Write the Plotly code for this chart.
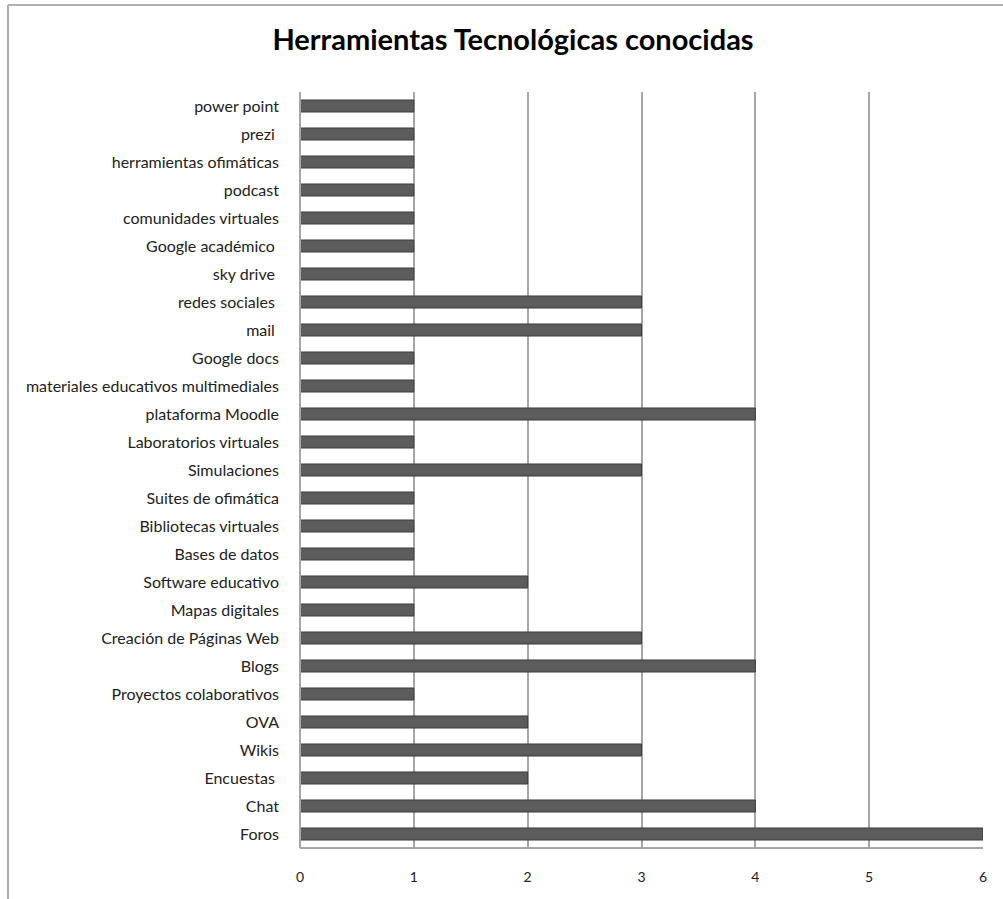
import plotly.graph_objects as go

categories = [
    "Foros", "Chat", "Encuestas ", "Wikis", "OVA", "Proyectos colaborativos",
    "Blogs", "Creación de Páginas Web", "Mapas digitales", "Software educativo",
    "Bases de datos", "Bibliotecas virtuales", "Suites de ofimática",
    "Simulaciones", "Laboratorios virtuales", "plataforma Moodle",
    "materiales educativos multimediales", "Google docs", "mail ",
    "redes sociales ", "sky drive ", "Google académico ", "comunidades virtuales",
    "podcast", "herramientas ofimáticas", "prezi ", "power point",
]
values = [6, 4, 2, 3, 2, 1, 4, 3, 1, 2, 1, 1, 1, 3, 1, 4, 1, 1, 3, 3, 1, 1, 1, 1, 1, 1, 1]
x_ticks = [0, 1, 2, 3, 4, 5, 6]
title_text = "Herramientas Tecnológicas conocidas"

W, H = 1003, 899
L, R, T, B = 300, 983, 92, 848

def px_x(p):
    return (p - L) / (R - L)

def px_y(p):
    return (B - p) / (B - T)

fig = go.Figure(go.Bar(
    x=values, y=categories, orientation="h", width=0.43,
    marker=dict(color="#5c5c5c", line=dict(color="#3c3c3c", width=1)),
    hoverinfo="x+y",
))

fig.update_layout(
    width=W, height=H,
    margin=dict(l=L, r=W - R, t=T, b=H - B),
    paper_bgcolor="white", plot_bgcolor="white",
    showlegend=False,
    font=dict(family="Lato, Open Sans, sans-serif", size=14, color="#222222"),
    title=dict(text="<b>" + title_text + "</b>", x=px_x(513), xref="paper",
               y=1 - 40 / H, yref="container", xanchor="center", yanchor="middle",
               font=dict(family="Lato, Roboto, sans-serif", size=29, color="#000000")),
    bargap=0.5,
)
fig.update_xaxes(
    range=[0, 6], tickvals=x_ticks, ticktext=[str(t) for t in x_ticks],
    showgrid=True, gridcolor="#a6a6a6", gridwidth=2,
    zeroline=False, showline=False, ticks="", ticklabelstandoff=19,
    tickfont=dict(size=14, color="#222222"), fixedrange=True,
)
fig.update_yaxes(
    categoryorder="array", categoryarray=categories,
    showgrid=False, zeroline=False, showline=False, ticks="",
    ticklabelstandoff=20, tickfont=dict(size=16, color="#222222"), fixedrange=True,
)

shapes = []
# back wall left edge and floor
shapes.append(dict(type="line", xref="paper", yref="paper", x0=0, x1=0, y0=0, y1=1,
                   line=dict(color="#a6a6a6", width=2)))
shapes.append(dict(type="line", xref="paper", yref="paper", x0=0, x1=1, y0=0, y1=0,
                   line=dict(color="#a6a6a6", width=2)))
# chart-area border (top and left)
shapes.append(dict(type="line", xref="paper", yref="paper", x0=px_x(8), x1=px_x(W + 5),
                   y0=px_y(5), y1=px_y(5), line=dict(color="#b0b0b0", width=2)))
shapes.append(dict(type="line", xref="paper", yref="paper", x0=px_x(8), x1=px_x(8),
                   y0=px_y(5), y1=px_y(H + 5), line=dict(color="#b0b0b0", width=2)))
fig.update_layout(shapes=shapes)

fig.write_html("out.html", config={"displayModeBar": False})
